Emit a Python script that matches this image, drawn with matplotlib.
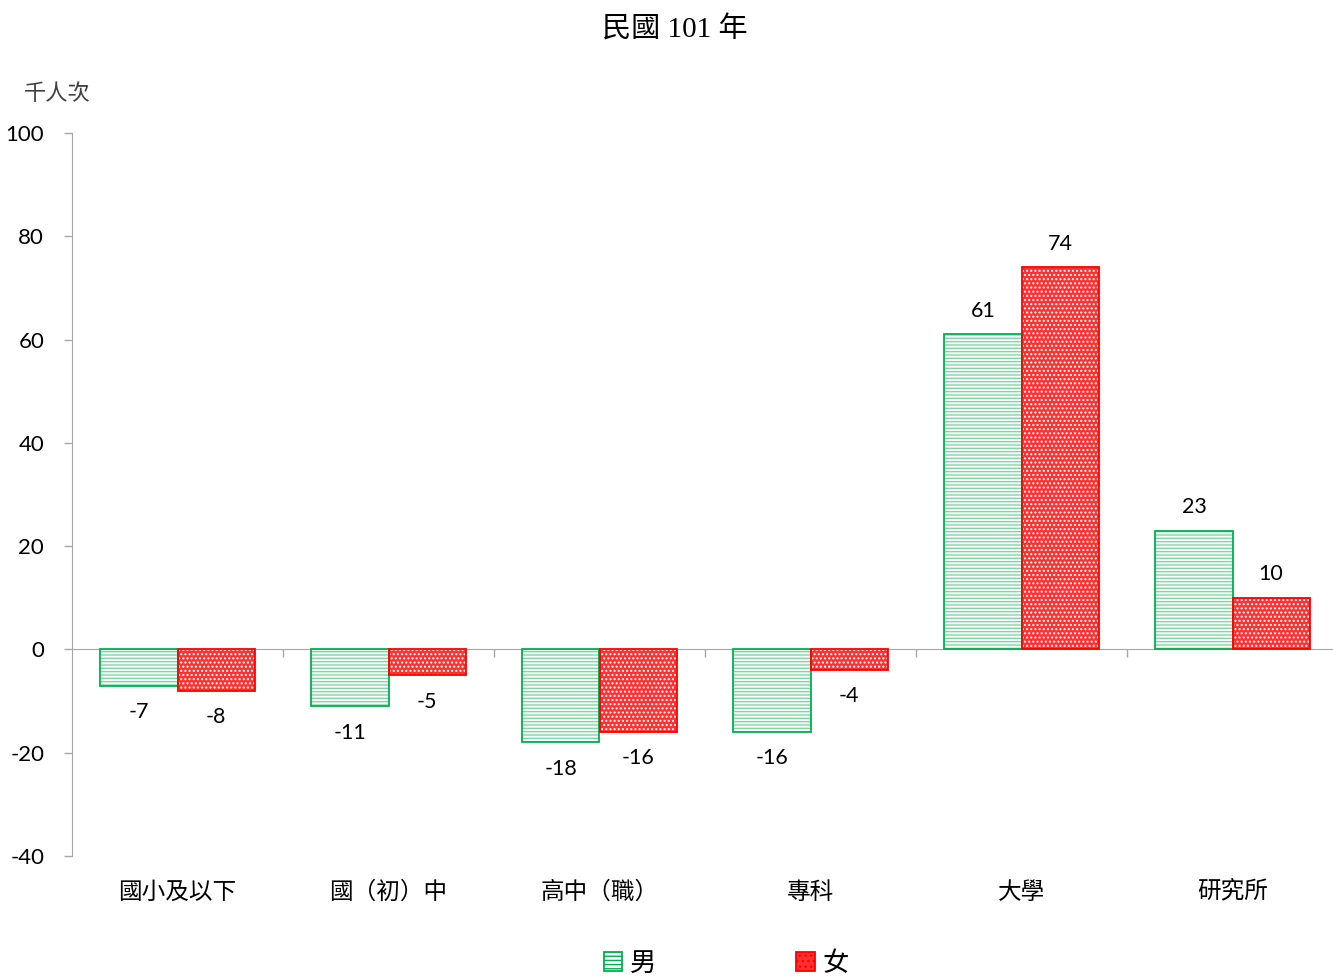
import numpy as np
import matplotlib
matplotlib.use('Agg')
import matplotlib.pyplot as plt
from matplotlib.patches import Patch
from matplotlib.transforms import blended_transform_factory

categories = ['國小及以下', '國（初）中', '高中（職）', '專科', '大學', '研究所']
male = [-7, -11, -18, -16, 61, 23]
female = [-8, -5, -16, -4, 74, 10]

CJK = ['Noto Sans CJK TC', 'DejaVu Sans']
SERIF = ['Liberation Serif', 'Noto Sans CJK TC']
NUM = ['Lato', 'DejaVu Sans']

plt.rcParams['hatch.linewidth'] = 1.0

fig = plt.figure(figsize=(13.33, 9.76), dpi=100)
ax = fig.add_axes([72 / 1333, 1 - 856 / 976, 1266 / 1333, (856 - 133) / 976])

x = np.arange(len(categories))
w = 0.365
green = '#00B050'
red = '#FF0000'

# male bars: light green stripes, then outline
ax.bar(x - w / 2, male, w, facecolor='white', edgecolor='#7FD8A4',
       hatch='-----', linewidth=0, zorder=2)
ax.bar(x - w / 2, male, w, facecolor='none', edgecolor=green, linewidth=1.3, zorder=3)
# female bars: red with white dots, then outline
ax.bar(x + w / 2, female, w, facecolor='#FF3030', edgecolor='white',
       hatch='....', linewidth=0, zorder=2)
ax.bar(x + w / 2, female, w, facecolor='none', edgecolor=red, linewidth=1.3, zorder=3)

for xs, vals in ((x - w / 2, male), (x + w / 2, female)):
    for xi, v in zip(xs, vals):
        off = 17 if v > 0 else -19
        ax.annotate(f'{v}', (xi, v), xytext=(0, off), textcoords='offset points',
                    ha='center', va='center', fontsize=15.5, family=NUM)

ax.set_xlim(-0.5, len(categories) - 0.5)
ax.set_ylim(-40, 100)
ax.set_yticks(np.arange(-40, 101, 20))
ax.set_yticklabels([str(v) for v in range(-40, 101, 20)], family=NUM, fontsize=16)
ax.set_xticks(x[:-1] + 0.5)
ax.set_xticklabels([])

for s in ['top', 'right']:
    ax.spines[s].set_visible(False)
ax.spines['bottom'].set_position(('data', 0))
ax.spines['bottom'].set_color('#A6A6A6')
ax.spines['left'].set_color('#A6A6A6')
ax.tick_params(axis='both', direction='out', length=6, color='#A6A6A6', width=1)
ax.tick_params(axis='y', pad=14)

trans = blended_transform_factory(ax.transData, ax.transAxes)
for xi, c in zip(x, categories):
    ax.text(xi, -0.05, c, transform=trans, ha='center', va='center',
            fontsize=17, family=CJK)

fig.text(675 / 1333, 1 - 30 / 976, '民國 101 年', ha='center', va='center',
         fontsize=21, family=SERIF)
fig.text(57 / 1333, 1 - 94 / 976, '千人次', ha='center', va='center',
         fontsize=16, family=CJK, color='#404040')

handles = [Patch(facecolor='white', edgecolor='#7FD8A4', hatch='----'),
           Patch(facecolor='#FF3030', edgecolor='white', hatch='...')]
leg = fig.legend(handles, ['男', '女'], loc='center', bbox_to_anchor=(0.545, 0.013),
                 ncol=2, frameon=False, handlelength=0.7, handleheight=0.7,
                 handletextpad=0.3, columnspacing=5.3, prop={'family': CJK, 'size': 19})
for p, c in zip(leg.get_patches(), [green, red]):
    p.set_edgecolor(c)
    p.set_linewidth(1.3)

fig.savefig('out.png', dpi=100)
